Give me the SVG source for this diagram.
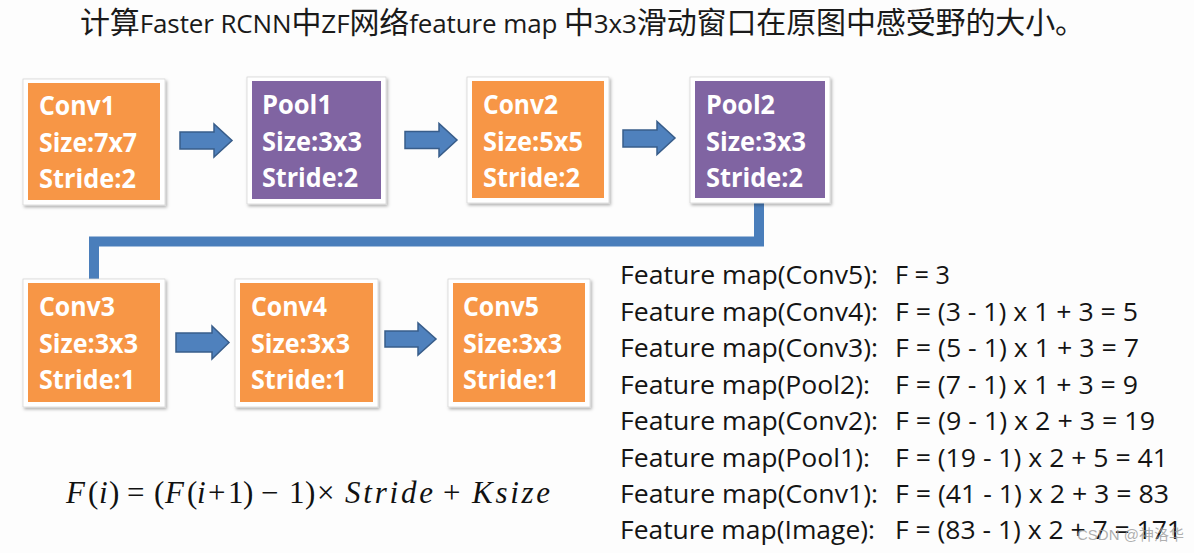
<svg xmlns="http://www.w3.org/2000/svg" width="1194" height="553" viewBox="0 0 1194 553">
<style>
.frame{fill:#ffffff;stroke:#d6d6d6;stroke-width:0.8;filter:url(#sh)}
.orange{fill:#F79646}
.purple{fill:#8064A2}
.bt{font-family:"Open Sans","Liberation Sans",sans-serif;font-weight:bold;font-size:27px;fill:#ffffff}
.arrow{fill:#4F81BD;stroke:#385D8A;stroke-width:1.5;stroke-linejoin:miter}
.conn{fill:none;stroke:#4A7EBB;stroke-width:10;stroke-linejoin:miter}
.lst{font-family:"Open Sans","Liberation Sans",sans-serif;font-size:26px;fill:#141414}
.title{font-family:"Open Sans","Noto Sans CJK SC",sans-serif;font-size:30px;fill:#1a1a1a}
.tl{font-size:26px}
.m{font-family:"Liberation Serif","Times New Roman",serif;font-size:31px;fill:#111}
.mi{font-style:italic}
.wm{font-family:"Liberation Sans","Noto Sans CJK SC",sans-serif;font-size:15px;fill:#9a9a9a;fill-opacity:0.8}
</style>
<defs>
<filter id="sh" x="-10%" y="-10%" width="125%" height="125%">
<feDropShadow dx="1.5" dy="2" stdDeviation="1.5" flood-color="#000" flood-opacity="0.3"/>
</filter>
</defs>
<rect width="1194" height="553" fill="#fdfdfd"/>

<text class="title" x="80" y="33" textLength="1005" lengthAdjust="spacing">计算<tspan class="tl">Faster RCNN</tspan>中<tspan class="tl">ZF</tspan>网络<tspan class="tl">feature map </tspan>中<tspan class="tl">3x3</tspan>滑动窗口在原图中感受野的大小。</text>

<g id="connectors">
<path class="conn" d="M759 203 V241.5 H94 V281"/>
<polygon class="arrow" points="180,132 214,132 214,124 232,140.5 214,157 214,149 180,149"/>
<polygon class="arrow" points="405,131.5 439,131.5 439,123.5 457,140 439,156.5 439,148.5 405,148.5"/>
<polygon class="arrow" points="623,130 657,130 657,121.5 675,138 657,154.5 657,147 623,147"/>
<polygon class="arrow" points="176,333 212,333 212,326 229,342.5 212,359 212,352 176,352"/>
<polygon class="arrow" points="385,331 418,331 418,323 436,339 418,355 418,347 385,347"/>
</g>

<g id="conv1">
<rect class="frame" x="23" y="79" width="142" height="126"/>
<rect class="orange" x="28" y="83" width="132" height="117"/>
<text class="bt" x="39" y="115" textLength="76" lengthAdjust="spacingAndGlyphs">Conv1</text>
<text class="bt" x="39" y="152" textLength="98" lengthAdjust="spacingAndGlyphs">Size:7x7</text>
<text class="bt" x="39" y="188" textLength="97" lengthAdjust="spacingAndGlyphs">Stride:2</text>
</g>

<g id="pool1">
<rect class="frame" x="247" y="77" width="139" height="127"/>
<rect class="purple" x="252" y="81" width="129" height="118"/>
<text class="bt" x="262" y="114" textLength="70" lengthAdjust="spacingAndGlyphs">Pool1</text>
<text class="bt" x="262" y="151" textLength="100" lengthAdjust="spacingAndGlyphs">Size:3x3</text>
<text class="bt" x="262" y="187" textLength="96" lengthAdjust="spacingAndGlyphs">Stride:2</text>
</g>

<g id="conv2">
<rect class="frame" x="467" y="77" width="142" height="126"/>
<rect class="orange" x="472" y="81" width="132" height="117"/>
<text class="bt" x="483" y="114" textLength="75" lengthAdjust="spacingAndGlyphs">Conv2</text>
<text class="bt" x="483" y="151" textLength="100" lengthAdjust="spacingAndGlyphs">Size:5x5</text>
<text class="bt" x="483" y="187" textLength="97" lengthAdjust="spacingAndGlyphs">Stride:2</text>
</g>

<g id="pool2">
<rect class="frame" x="690" y="77" width="140" height="126"/>
<rect class="purple" x="695" y="81" width="130" height="117"/>
<text class="bt" x="706" y="114" textLength="69" lengthAdjust="spacingAndGlyphs">Pool2</text>
<text class="bt" x="706" y="151" textLength="100" lengthAdjust="spacingAndGlyphs">Size:3x3</text>
<text class="bt" x="706" y="187" textLength="97" lengthAdjust="spacingAndGlyphs">Stride:2</text>
</g>

<g id="conv3">
<rect class="frame" x="23" y="279" width="142" height="128"/>
<rect class="orange" x="28" y="283" width="132" height="119"/>
<text class="bt" x="39" y="316" textLength="76" lengthAdjust="spacingAndGlyphs">Conv3</text>
<text class="bt" x="39" y="353" textLength="99" lengthAdjust="spacingAndGlyphs">Size:3x3</text>
<text class="bt" x="39" y="389" textLength="96" lengthAdjust="spacingAndGlyphs">Stride:1</text>
</g>

<g id="conv4">
<rect class="frame" x="235" y="279" width="143" height="128"/>
<rect class="orange" x="240" y="283" width="133" height="119"/>
<text class="bt" x="251" y="316" textLength="76" lengthAdjust="spacingAndGlyphs">Conv4</text>
<text class="bt" x="251" y="353" textLength="99" lengthAdjust="spacingAndGlyphs">Size:3x3</text>
<text class="bt" x="251" y="389" textLength="96" lengthAdjust="spacingAndGlyphs">Stride:1</text>
</g>

<g id="conv5">
<rect class="frame" x="448" y="279" width="142" height="128"/>
<rect class="orange" x="453" y="283" width="132" height="119"/>
<text class="bt" x="463" y="316" textLength="76" lengthAdjust="spacingAndGlyphs">Conv5</text>
<text class="bt" x="463" y="353" textLength="99" lengthAdjust="spacingAndGlyphs">Size:3x3</text>
<text class="bt" x="463" y="389" textLength="96" lengthAdjust="spacingAndGlyphs">Stride:1</text>
</g>

<g id="feature-list">
<text class="lst" x="620" y="284" textLength="258" lengthAdjust="spacingAndGlyphs">Feature map(Conv5):</text>
<text class="lst" x="895" y="284" textLength="55" lengthAdjust="spacingAndGlyphs">F = 3</text>
<text class="lst" x="620" y="321" textLength="258" lengthAdjust="spacingAndGlyphs">Feature map(Conv4):</text>
<text class="lst" x="895" y="321" textLength="243" lengthAdjust="spacingAndGlyphs">F = (3 - 1) x 1 + 3 = 5</text>
<text class="lst" x="620" y="357" textLength="258" lengthAdjust="spacingAndGlyphs">Feature map(Conv3):</text>
<text class="lst" x="895" y="357" textLength="244" lengthAdjust="spacingAndGlyphs">F = (5 - 1) x 1 + 3 = 7</text>
<text class="lst" x="620" y="394" textLength="250" lengthAdjust="spacingAndGlyphs">Feature map(Pool2):</text>
<text class="lst" x="895" y="394" textLength="243" lengthAdjust="spacingAndGlyphs">F = (7 - 1) x 1 + 3 = 9</text>
<text class="lst" x="620" y="430" textLength="258" lengthAdjust="spacingAndGlyphs">Feature map(Conv2):</text>
<text class="lst" x="895" y="430" textLength="260" lengthAdjust="spacingAndGlyphs">F = (9 - 1) x 2 + 3 = 19</text>
<text class="lst" x="620" y="467" textLength="250" lengthAdjust="spacingAndGlyphs">Feature map(Pool1):</text>
<text class="lst" x="895" y="467" textLength="273" lengthAdjust="spacingAndGlyphs">F = (19 - 1) x 2 + 5 = 41</text>
<text class="lst" x="620" y="503" textLength="258" lengthAdjust="spacingAndGlyphs">Feature map(Conv1):</text>
<text class="lst" x="895" y="503" textLength="274" lengthAdjust="spacingAndGlyphs">F = (41 - 1) x 2 + 3 = 83</text>
<text class="lst" x="620" y="539" textLength="255" lengthAdjust="spacingAndGlyphs">Feature map(Image):</text>
<text class="lst" x="895" y="539" textLength="287" lengthAdjust="spacingAndGlyphs">F = (83 - 1) x 2 + 7 = 171</text>
</g>

<g id="formula">
<text class="m" y="503"><tspan class="mi" x="66">F</tspan><tspan x="88">(</tspan><tspan class="mi" x="99">i</tspan><tspan x="109">)</tspan><tspan x="127">=</tspan><tspan x="154">(</tspan><tspan class="mi" x="165">F</tspan><tspan x="187">(</tspan><tspan class="mi" x="197">i</tspan><tspan x="208">+</tspan><tspan x="228">1</tspan><tspan x="243">)</tspan><tspan x="261">−</tspan><tspan x="289">1</tspan><tspan x="305">)</tspan><tspan x="317">×</tspan><tspan class="mi" x="345" textLength="88" lengthAdjust="spacing">Stride</tspan><tspan x="443">+</tspan><tspan class="mi" x="472" textLength="78" lengthAdjust="spacing">Ksize</tspan></text>
</g>

<text class="wm" x="1077" y="540">CSDN @神洛华</text>
</svg>
